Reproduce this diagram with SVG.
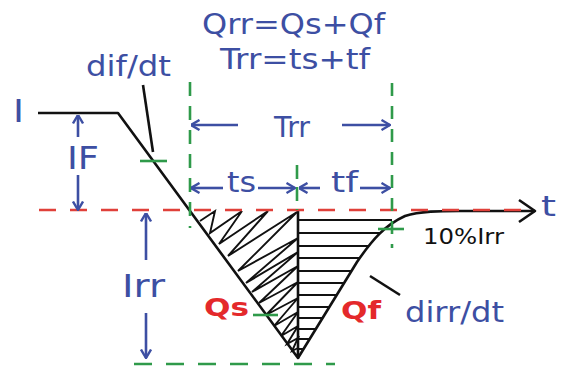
<svg xmlns="http://www.w3.org/2000/svg" width="569" height="371" viewBox="0 0 569 371">
<style>
.blk{fill:none;stroke:#111;stroke-width:2.6;stroke-linejoin:round}
.hat{fill:none;stroke:#111;stroke-width:1.9;stroke-linejoin:miter}
.grn{fill:none;stroke:#2f9a4a;stroke-width:2.6}
.red{fill:none;stroke:#e0403a;stroke-width:2.6;stroke-dasharray:17 14}
.arr{fill:none;stroke:#3d4fa3;stroke-width:2.6;marker-end:url(#ah)}
.bt{font-family:"DejaVu Sans",Verdana,sans-serif;fill:#3d4fa3}
.rt{font-family:"DejaVu Sans",Verdana,sans-serif;fill:#e4292b;font-weight:bold}
</style>
<defs>
<marker id="ah" viewBox="0 0 10 12" refX="9.5" refY="6" markerWidth="10" markerHeight="12" markerUnits="userSpaceOnUse" orient="auto">
<path d="M1,1 L9.5,6 L1,11" fill="none" stroke="#3d4fa3" stroke-width="2.4"/>
</marker>
</defs>
<rect width="569" height="371" fill="#fff"/>

<g id="hatch-qs">
<polyline class="hat" points="200,221 215,211 210,233 242,211 219,244 268,211 228,256 297,212 238,271 298,238 246,283 298,252 252,292 298,266 259,303 298,282 266,315 298,298 274,326 298,312 281,336 298,326 287,344 298,338 292,351 298,348"/>
</g>
<g id="hatch-qf">
<path class="hat" d="M298,220H392M298,233H381M298,246H369M298,258H360M298,271H352M298,283H344M298,295H337M298,307H330M298,318H323M298,329H316M298,339H310M298,349H304"/>
</g>

<g id="curve">
<path class="blk" d="M38,113 L118,113 L298,358 L298,210"/>
<path class="blk" d="M298,358 L357,262 C372,240 385,225 405,216 C420,211 440,211 460,211 L535,211"/>
<path class="blk" d="M519,200 L535,211 L519,222"/>
</g>

<g id="guides">
<line class="red" x1="39" y1="210" x2="533" y2="210"/>
<line class="grn" x1="190" y1="82" x2="190" y2="228" stroke-dasharray="14 10"/>
<line class="grn" x1="297" y1="165" x2="297" y2="210" stroke-dasharray="14 8"/>
<line class="grn" x1="392" y1="83" x2="392" y2="248" stroke-dasharray="13 10"/>
<line class="grn" x1="134" y1="364" x2="335" y2="364" stroke-dasharray="18 14"/>
<line class="grn" x1="140" y1="161" x2="167" y2="161"/>
<line class="grn" x1="253" y1="315" x2="278" y2="315"/>
<line class="grn" x1="378" y1="229" x2="404" y2="229"/>
</g>

<g id="connectors">
<line class="blk" x1="143" y1="85" x2="153" y2="152"/>
<line class="blk" x1="370" y1="276" x2="400" y2="295"/>
<line class="arr" x1="78" y1="137" x2="78" y2="115"/>
<line class="arr" x1="78" y1="175" x2="78" y2="210"/>
<line class="arr" x1="146" y1="260" x2="146" y2="213"/>
<line class="arr" x1="146" y1="313" x2="146" y2="358"/>
<line class="arr" x1="238" y1="125" x2="191" y2="125"/>
<line class="arr" x1="342" y1="125" x2="390" y2="125"/>
<line class="arr" x1="223" y1="188" x2="191" y2="188"/>
<line class="arr" x1="258" y1="188" x2="295" y2="188"/>
<line class="arr" x1="320" y1="188" x2="299" y2="188"/>
<line class="arr" x1="360" y1="188" x2="390" y2="188"/>
</g>

<g id="labels">
<text class="bt" x="202" y="34" font-size="27.5" textLength="183" lengthAdjust="spacingAndGlyphs">Qrr=Qs+Qf</text>
<text class="bt" x="220" y="69" font-size="27.5" textLength="150" lengthAdjust="spacingAndGlyphs">Trr=ts+tf</text>
<text class="bt" x="86" y="76" font-size="28" textLength="85" lengthAdjust="spacingAndGlyphs">dif/dt</text>
<text class="bt" x="13" y="122" font-size="32" textLength="11" lengthAdjust="spacingAndGlyphs">I</text>
<text class="bt" x="67" y="169" font-size="32" textLength="32" lengthAdjust="spacingAndGlyphs">IF</text>
<text class="bt" x="274" y="137" font-size="29" textLength="36" lengthAdjust="spacingAndGlyphs">Trr</text>
<text class="bt" x="227" y="192" font-size="29" textLength="29" lengthAdjust="spacingAndGlyphs">ts</text>
<text class="bt" x="331" y="192" font-size="29" textLength="27" lengthAdjust="spacingAndGlyphs">tf</text>
<text class="bt" x="122" y="297" font-size="32" textLength="43" lengthAdjust="spacingAndGlyphs">Irr</text>
<text class="bt" x="405" y="322" font-size="28" textLength="99" lengthAdjust="spacingAndGlyphs">dirr/dt</text>
<text class="bt" x="541" y="216" font-size="28" textLength="15" lengthAdjust="spacingAndGlyphs">t</text>
<text x="423" y="244" font-size="21" font-family="DejaVu Sans, Verdana, sans-serif" fill="#111" textLength="81" lengthAdjust="spacingAndGlyphs">10%Irr</text>
<text class="rt" x="204" y="316" font-size="25" textLength="45" lengthAdjust="spacingAndGlyphs">Qs</text>
<text class="rt" x="341" y="319" font-size="25" textLength="40" lengthAdjust="spacingAndGlyphs">Qf</text>
</g>
</svg>
